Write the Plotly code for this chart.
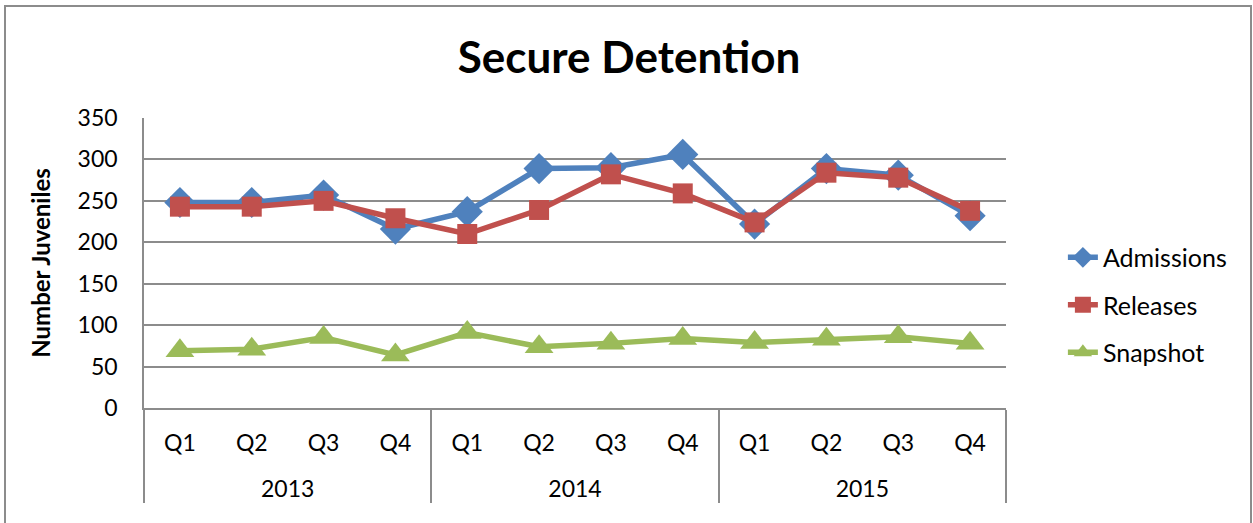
import plotly.graph_objects as go

years = ["2013"] * 4 + ["2014"] * 4 + ["2015"] * 4
quarters = ["Q1", "Q2", "Q3", "Q4"] * 3
admissions = [248, 248, 257, 216, 237, 289, 290, 306, 222, 289, 281, 232]
releases = [243, 243, 250, 229, 210, 239, 282, 259, 224, 284, 278, 238]
snapshot = [69, 71, 85, 64, 91, 74, 78, 84, 79, 83, 86, 78]
y_ticks = [0, 50, 100, 150, 200, 250, 300, 350]

# inner-level labels carry an empty second line so the year row sits lower
quarter_labels = [q + "<br>\u00a0" for q in quarters]

FONT = "Lato"
fig = go.Figure()
series = [
    ("Admissions", admissions, "#4F81BD", "diamond", 24),
    ("Releases", releases, "#C0504D", "square", 20),
    ("Snapshot", snapshot, "#9BBB59", "triangle-up", 25),
]
for name, vals, col, sym, size in series:
    fig.add_trace(go.Scatter(
        x=[years, quarter_labels], y=vals, name=name, mode="lines+markers",
        legendgroup=name,
        line=dict(color=col, width=5.5),
        marker=dict(symbol=sym, size=size, color=col, line=dict(width=0)),
    ))

fig.update_layout(
    width=1253, height=523,
    margin=dict(l=144, r=247, t=118, b=115, autoexpand=False),
    paper_bgcolor="white", plot_bgcolor="white",
    font=dict(family=FONT, size=22, color="black"),
    title=dict(text="<b>Secure Detention</b>", x=0.502, xanchor="center",
               y=0.89, yanchor="middle", font=dict(size=44, family=FONT)),
    legend=dict(x=1.066, y=0.355, xanchor="left", yanchor="middle",
                font=dict(size=25), traceorder="grouped", tracegroupgap=12),
    showlegend=True,
)
fig.update_yaxes(range=[0, 350], tickvals=y_ticks, showgrid=True,
                 gridcolor="#8C8C8C", gridwidth=1.5, showline=True,
                 linecolor="#8C8C8C", linewidth=1.5, zeroline=False,
                 ticks="", ticklabelstandoff=20, tickfont=dict(size=23),
                 title=dict(text="<b>Number Juveniles</b>", font=dict(size=24), standoff=20))
fig.update_xaxes(type="multicategory", showline=True, linecolor="#8C8C8C",
                 linewidth=1.5, showdividers=True, dividercolor="#8C8C8C",
                 dividerwidth=1.5, showgrid=False, ticks="",
                 ticklabelstandoff=14,
                 tickfont=dict(size=23), range=[-0.5, 11.5])
fig.add_shape(type="rect", xref="paper", yref="paper",
              x0=(5 - 144) / 862, x1=(1251 - 144) / 862,
              y0=-2, y1=(408 - 6) / 290,
              line=dict(color="#8C8C8C", width=2), fillcolor="rgba(0,0,0,0)")
fig.write_html("out.html", config={"displayModeBar": False},
               post_script="document.body.style.margin='0';")
